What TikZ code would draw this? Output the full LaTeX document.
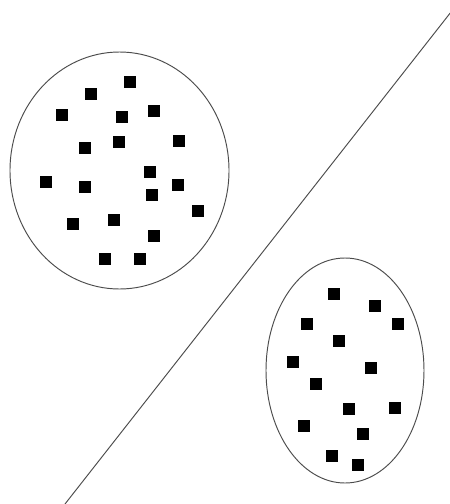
\documentclass[tikz,border=0pt]{standalone}
\begin{document}
\begin{tikzpicture}[x=1pt,y=-1pt,
  dot/.style={fill=black,inner sep=0pt,minimum size=12pt,draw=none},
  blob/.style={draw=black!70,line width=0.95pt},
  divider/.style={draw=black!70,line width=0.95pt}]
\useasboundingbox (0,0) rectangle (450,504);
\fill[white] (0,0) rectangle (450,504);
% left cluster
\draw[blob] (119.5,170.5) ellipse [x radius=109.5, y radius=118.5];
\foreach \x/\y [count=\i] in {130/81.7, 91/94, 61.7/115, 122/116.7, 154.3/111, 85/147.7, 118.7/142.3, 179.3/141, 45.7/181.7, 85/186.7, 150/172.3, 177.7/185, 152.3/195, 198.3/211, 73.3/224, 114.3/220, 154/236, 105/259.3, 140/259.3}
  \node[dot] (L\i) at (\x,\y) {};
% right cluster
\draw[blob] (345,370.5) ellipse [x radius=79, y radius=112.5];
\foreach \x/\y [count=\i] in {334/294.3, 375/306, 307.3/324, 397.7/324.3, 338.7/341, 292.7/362.3, 370.7/367.7, 316/383.7, 349/408.7, 394.7/407.7, 303.7/425.7, 362.7/434.3, 332.3/455.7, 357.7/465.3}
  \node[dot] (R\i) at (\x,\y) {};
% separating line
\coordinate (top) at (451,12);
\coordinate (bot) at (65,504);
\draw[divider] (top) -- (bot);
\end{tikzpicture}
\end{document}
